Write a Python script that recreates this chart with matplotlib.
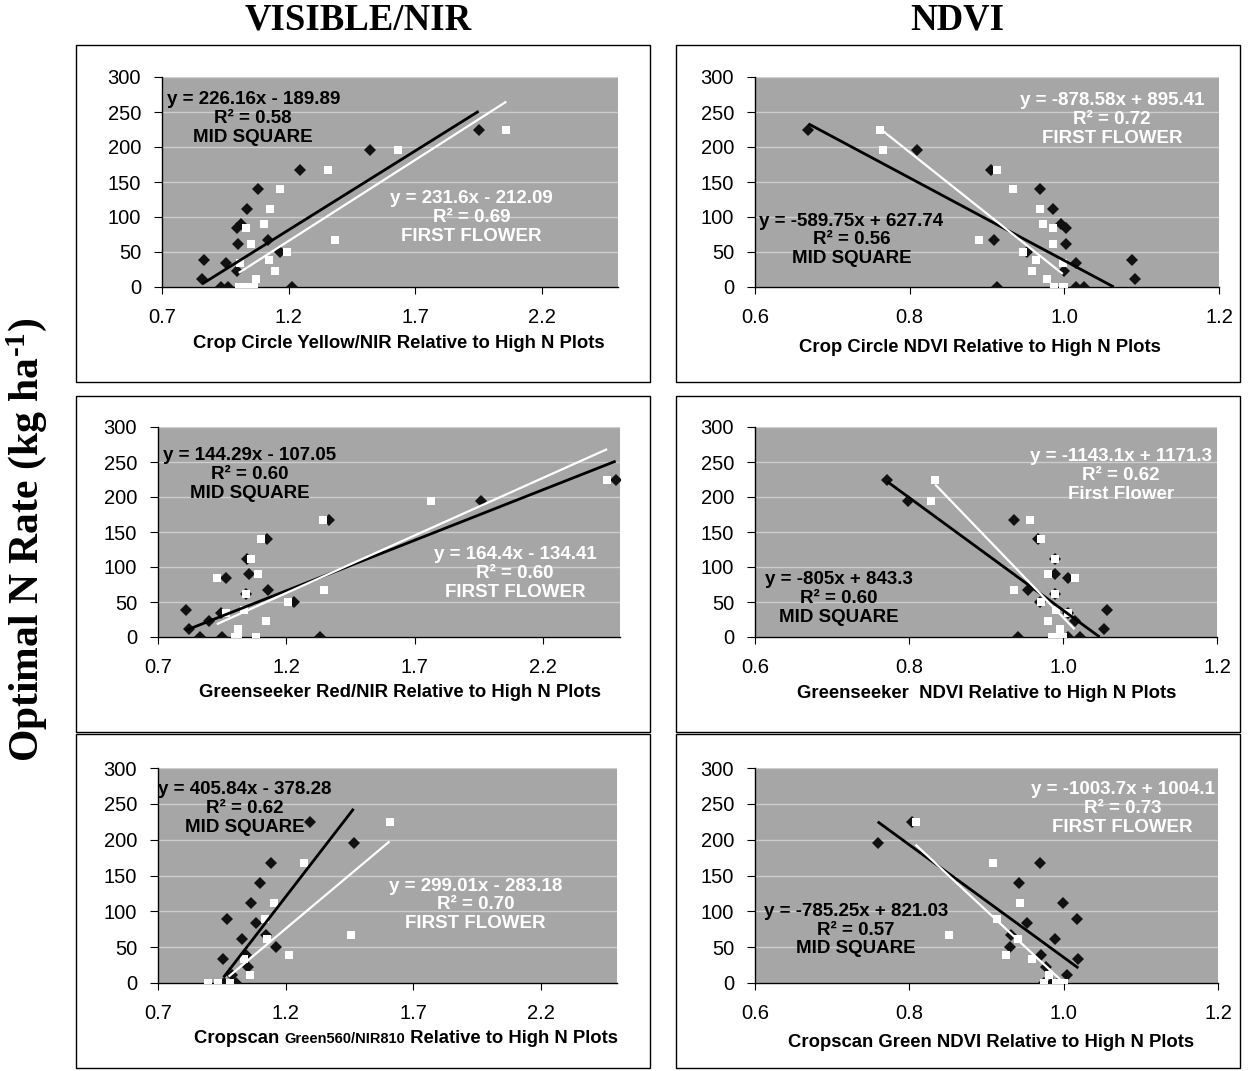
import numpy as np
import matplotlib.pyplot as plt
from matplotlib.patches import Rectangle
from matplotlib.offsetbox import TextArea, HPacker, AnnotationBbox

plt.rcParams['font.family'] = ['Liberation Sans', 'DejaVu Sans']
plt.rcParams['mathtext.fontset'] = 'custom'
plt.rcParams['mathtext.rm'] = 'Liberation Serif:bold'
plt.rcParams['mathtext.it'] = 'Liberation Serif:bold'
plt.rcParams['mathtext.bf'] = 'Liberation Serif:bold'

nan = np.nan

# optimal N rate (kg/ha), shared by every panel
rate = [224, 195, 167, 140, 112, 90, 84, 67, 62, 50, 39, 34, 23, 11, 0, 0, 0]

# Crop Circle yellow/NIR
cc_vis_mid = [1.95, 1.52, 1.246, 1.078, 1.036, 1.013, 0.996, 1.118, 0.999, 1.164, 0.864, 0.954, 0.996, 0.858, 0.934, 0.959, 1.213]
cc_vis_ff = [2.059, 1.632, 1.355, 1.167, 1.128, 1.101, 1.033, 1.382, 1.051, 1.193, 1.121, 1.007, 1.145, 1.07, 1.003, 1.033, 1.062]
# Crop Circle NDVI
cc_ndvi_mid = [0.669, 0.809, 0.905, 0.969, 0.985, 0.996, 1.002, 0.909, 1.002, 0.952, 1.088, 1.015, 1.0, 1.092, 0.913, 1.015, 1.026]
cc_ndvi_ff = [0.762, 0.766, 0.913, 0.933, 0.969, 0.972, 0.985, 0.890, 0.985, 0.946, 0.963, 0.998, 0.958, 0.978, 0.987, 0.998, 1.0]
# Greenseeker red/NIR
gs_vis_mid = [2.483, 1.957, 1.368, 1.123, 1.047, 1.055, 0.965, 1.127, 1.044, 1.229, 0.808, 0.945, 0.898, 0.822, 0.865, 0.951, 1.331]
gs_vis_ff = [2.45, 1.762, 1.342, 1.103, 1.064, 1.09, 0.929, 1.346, 1.044, 1.207, 1.035, 0.965, 1.119, 1.011, 1.011, 1.081, 1.0]
# Greenseeker NDVI
gs_ndvi_mid = [0.772, 0.799, 0.936, 0.968, 0.99, 0.990, 1.006, 0.954, 0.99, 0.97, 1.057, 1.006, 1.015, 1.053, 0.942, 1.007, 1.022]
gs_ndvi_ff = [0.834, 0.828, 0.957, 0.972, 0.990, 0.981, 1.015, 0.936, 0.990, 0.971, 0.991, 1.006, 0.981, 0.996, 0.986, 0.99, 1.0]
# Cropscan green560/NIR810
cs_vis_mid = [1.298, 1.467, 1.145, 1.10, 1.063, 0.97, 1.085, 1.125, 1.028, 1.162, 1.045, 0.953, 1.054, 0.99, 0.96, 0.99, 1.007]
cs_vis_ff = [1.608, nan, 1.272, nan, 1.155, 1.118, nan, 1.456, 1.128, nan, 1.213, 1.039, nan, 1.059, 0.896, 0.937, 0.983]
# Cropscan green NDVI
cs_ndvi_mid = [0.803, 0.759, 0.969, 0.942, 0.999, 1.017, 0.953, 0.932, 0.989, 0.930, 0.970, 1.019, 0.977, 1.004, 0.975, 0.985, 0.993]
cs_ndvi_ff = [0.808, nan, 0.908, nan, 0.943, 0.913, nan, 0.851, 0.941, nan, 0.925, 0.959, nan, 0.981, 0.975, 1.0, 0.99]

# trendline end points (x0, x1), (y0, y1)
fits = {
    "cc_vis_mid": ([0.858, 1.95], [4.2, 251.1]),
    "cc_vis_ff": ([1.003, 2.059], [20.2, 264.8]),
    "cc_ndvi_mid": ([0.669, 1.064], [233.2, 0.0]),
    "cc_ndvi_ff": ([0.762, 0.998], [225.9, 18.6]),
    "gs_vis_mid": ([0.808, 2.483], [9.5, 251.2]),
    "gs_vis_ff": ([0.929, 2.45], [18.3, 268.4]),
    "gs_ndvi_mid": ([0.772, 1.0476], [221.8, 0.0]),
    "gs_ndvi_ff": ([0.834, 1.015], [217.9, 11.1]),
    "cs_vis_mid": ([0.957, 1.467], [8.0, 243.0]),
    "cs_vis_ff": ([0.977, 1.608], [8.9, 197.6]),
    "cs_ndvi_mid": ([0.759, 1.019], [225.0, 20.9]),
    "cs_ndvi_ff": ([0.808, 1.0], [193.1, 0.4]),
}

labels_mid = [
    "y = 226.16x - 189.89\nR² = 0.58\nMID SQUARE",
    "y = -589.75x + 627.74\nR² = 0.56\nMID SQUARE",
    "y = 144.29x - 107.05\nR² = 0.60\nMID SQUARE",
    "y = -805x + 843.3\nR² = 0.60\nMID SQUARE",
    "y = 405.84x - 378.28\nR² = 0.62\nMID SQUARE",
    "y = -785.25x + 821.03\nR² = 0.57\nMID SQUARE",
]
labels_ff = [
    "y = 231.6x - 212.09\nR² = 0.69\nFIRST FLOWER",
    "y = -878.58x + 895.41\nR² = 0.72\nFIRST FLOWER",
    "y = 164.4x - 134.41\nR² = 0.60\nFIRST FLOWER",
    "y = -1143.1x + 1171.3\nR² = 0.62\nFirst Flower",
    "y = 299.01x - 283.18\nR² = 0.70\nFIRST FLOWER",
    "y = -1003.7x + 1004.1\nR² = 0.73\nFIRST FLOWER",
]
xlabels = [
    "Crop Circle Yellow/NIR Relative to High N Plots",
    "Crop Circle NDVI Relative to High N Plots",
    "Greenseeker Red/NIR Relative to High N Plots",
    "Greenseeker  NDVI Relative to High N Plots",
    None,
    "Cropscan Green NDVI Relative to High N Plots",
]

W, H = 1251, 1071
fig = plt.figure(figsize=(W / 100, H / 100), dpi=100)

SANS = ['Liberation Sans']
SERIF = ['Liberation Serif']

# layout in pixels: axes (left, top, right, bottom), text positions in axes fraction
layout = [
    dict(ax=(162, 77, 618, 287), mid=(0.2, 0.803), ff=(0.679, 0.332), xl=(0.52, -0.271)),
    dict(ax=(755, 77, 1219, 287), mid=(0.208, 0.224), ff=(0.769, 0.799), xl=(0.485, -0.29)),
    dict(ax=(158, 427, 620, 637), mid=(0.199, 0.775), ff=(0.773, 0.303), xl=(0.524, -0.262)),
    dict(ax=(755, 427, 1217, 637), mid=(0.182, 0.184), ff=(0.792, 0.771), xl=(0.502, -0.271)),
    dict(ax=(158, 768, 617, 983), mid=(0.19, 0.8126), ff=(0.692, 0.363), xl=(0.54, -0.26)),
    dict(ax=(755, 768, 1218, 983), mid=(0.218, 0.2465), ff=(0.794, 0.813), xl=(0.51, -0.279)),
]
boxes = [(76, 45, 650, 382), (676, 45, 1240, 382), (76, 396, 650, 732),
         (676, 396, 1240, 732), (76, 734, 650, 1068), (676, 734, 1240, 1068)]

series = [("cc_vis", cc_vis_mid, cc_vis_ff), ("cc_ndvi", cc_ndvi_mid, cc_ndvi_ff),
          ("gs_vis", gs_vis_mid, gs_vis_ff), ("gs_ndvi", gs_ndvi_mid, gs_ndvi_ff),
          ("cs_vis", cs_vis_mid, cs_vis_ff), ("cs_ndvi", cs_ndvi_mid, cs_ndvi_ff)]

for (l, t, r, b) in boxes:
    fig.add_artist(Rectangle((l / W, 1 - b / H), (r - l) / W, (b - t) / H,
                             transform=fig.transFigure, fill=False, edgecolor='black', lw=1.0))

for i, (key, mid_x, ff_x) in enumerate(series):
    lay = layout[i]
    l, t, r, b = lay["ax"]
    ax = fig.add_axes([l / W, 1 - b / H, (r - l) / W, (b - t) / H])
    ax.set_facecolor('#a6a6a6')
    vis = (i % 2 == 0)
    if vis:
        ax.set_xlim(0.7, 2.5)
        ax.set_xticks([0.7, 1.2, 1.7, 2.2])
    else:
        ax.set_xlim(0.6, 1.2)
        ax.set_xticks([0.6, 0.8, 1.0, 1.2])
    ax.xaxis.set_major_formatter(plt.FormatStrFormatter('%.1f'))
    ax.set_ylim(0, 300)
    ax.set_yticks(range(0, 301, 50))
    ax.yaxis.grid(True, color='#cdcdcd', lw=1.0)
    ax.set_axisbelow(True)
    for s in ['top', 'right']:
        ax.spines[s].set_visible(False)
    for s in ['left', 'bottom']:
        ax.spines[s].set_color('black')
        ax.spines[s].set_linewidth(1.0)
    ax.tick_params(axis='y', length=6, pad=9, labelsize=14.5)
    ax.tick_params(axis='x', length=5, pad=10, labelsize=14.5)

    ax.plot(mid_x, rate, 'D', color='#111111', ms=5.8, mew=0, zorder=3)
    ax.plot(ff_x, rate, 's', color='white', ms=6.3, mew=0, zorder=4)
    fx, fy = fits[key + "_mid"]
    ax.plot(fx, fy, color='black', lw=2.0, zorder=5, solid_capstyle='butt')
    fx, fy = fits[key + "_ff"]
    ax.plot(fx, fy, color='white', lw=1.6, zorder=6, solid_capstyle='butt')

    ax.text(*lay["mid"], labels_mid[i], transform=ax.transAxes, ha='center', va='center',
            fontsize=13.5, fontweight='bold', color='black', linespacing=1.15, zorder=7)
    ax.text(*lay["ff"], labels_ff[i], transform=ax.transAxes, ha='center', va='center',
            fontsize=13.5, fontweight='bold', color='white', linespacing=1.15, zorder=7)

    if xlabels[i] is not None:
        ax.text(*lay["xl"], xlabels[i], transform=ax.transAxes, ha='center', va='center',
                fontsize=13.3, fontweight='bold', family=SANS)
    else:
        parts = [TextArea("Cropscan ", textprops=dict(fontsize=13.3, fontweight='bold', family=SANS)),
                 TextArea("Green560/NIR810", textprops=dict(fontsize=10.5, fontweight='bold', family=SANS)),
                 TextArea(" Relative to High N Plots", textprops=dict(fontsize=13.3, fontweight='bold', family=SANS))]
        pack = HPacker(children=parts, align='baseline', pad=0, sep=0)
        ab = AnnotationBbox(pack, lay["xl"], xycoords='axes fraction', frameon=False,
                            box_alignment=(0.5, 0.5))
        ax.add_artist(ab)

fig.text(358 / W, 1 - 20 / H, "VISIBLE/NIR", ha='center', va='center',
         fontsize=26.5, fontweight='bold', family=SERIF)
fig.text(957 / W, 1 - 20 / H, "NDVI", ha='center', va='center',
         fontsize=26.5, fontweight='bold', family=SERIF)
fig.text(27 / W, 1 - 540 / H, r"Optimal N Rate (kg ha$^{\text{-1}}$)", ha='center', va='center',
         rotation=90, fontsize=30, fontweight='bold', family=SERIF)

fig.savefig("out.png", dpi=100, facecolor='white')
